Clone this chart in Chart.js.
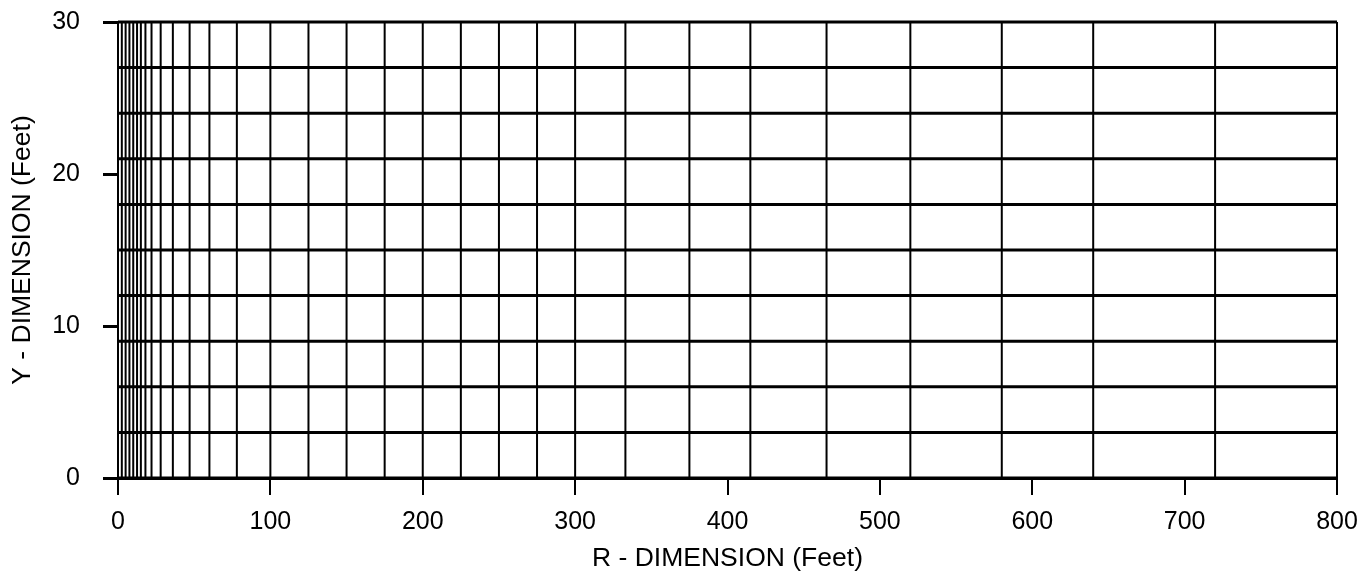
<!DOCTYPE html>
<html>
<head>
<meta charset="utf-8">
<script src="https://cdn.jsdelivr.net/npm/chart.js@4/dist/chart.umd.min.js"></script>
<style>
  html, body { margin: 0; padding: 0; background: #fff; }
  #wrap { width: 1365px; height: 576px; }
</style>
</head>
<body>
<div id="wrap"><canvas id="chart"></canvas></div>
<script>
// mesh column boundaries along R (feet)
const rLines = [0, 2.5, 5, 7.5, 10, 12.5, 15, 18, 22, 28, 36, 47, 60, 78, 100,
  125, 150, 175, 200, 225, 250, 275, 300, 333, 375, 415, 465, 520, 580, 640, 720, 800];
// mesh layer boundaries along Y (feet)
const yLines = [0, 3, 6, 9, 12, 15, 18, 21, 24, 27, 30];
// axis tick labels
const rTicks = [0, 100, 200, 300, 400, 500, 600, 700, 800];
const yTicks = [0, 10, 20, 30];

const FONT = "'Liberation Sans', Arial, Helvetica, sans-serif";

// each family of mesh lines is one dataset, segments split by null points
function verticalSegments() {
  var pts = [];
  rLines.forEach((r) => {
    pts.push({x: r, y: yLines[0]});
    pts.push({x: r, y: yLines[yLines.length - 1]});
    pts.push({x: r, y: null});
  });
  return pts;
}

function horizontalSegments() {
  var pts = [];
  yLines.forEach((y) => {
    pts.push({x: rLines[0], y: y});
    pts.push({x: rLines[rLines.length - 1], y: y});
    pts.push({x: rLines[0], y: null});
  });
  return pts;
}

new Chart(document.getElementById('chart'), {
  type: 'scatter',
  data: {
    datasets: [{
      data: verticalSegments(),
      showLine: true,
      borderColor: '#000',
      borderWidth: 2,
      pointRadius: 0,
      spanGaps: false,
      clip: false
    }, {
      data: horizontalSegments(),
      showLine: true,
      borderColor: '#000',
      borderWidth: 3,
      pointRadius: 0,
      spanGaps: false,
      clip: false
    }]
  },
  options: {
    responsive: true,
    maintainAspectRatio: false,
    animation: false,
    layout: { padding: { left: 0, right: 28, top: 22, bottom: 0 } },
    plugins: {
      legend: { display: false },
      tooltip: { enabled: false }
    },
    scales: {
      x: {
        type: 'linear',
        min: 0,
        max: 800,
        afterBuildTicks: (scale) => { scale.ticks = rTicks.map((v) => ({value: v})); },
        afterFit: (scale) => {
          scale.height = 98;
          // let layout.padding alone decide the plot edges
          scale.paddingLeft = 0;
          scale.paddingRight = 0;
        },
        grid: {
          drawOnChartArea: false,
          drawTicks: true,
          tickLength: 17,
          color: '#000',
          lineWidth: 2
        },
        border: { display: true, color: '#000', width: 3 },
        ticks: {
          color: '#000',
          padding: 12,
          maxRotation: 0,
          font: { family: FONT, size: 25 }
        },
        title: {
          display: true,
          text: 'R - DIMENSION (Feet)',
          color: '#000',
          font: { family: FONT, size: 26.5 },
          padding: { top: 0, bottom: 1 }
        }
      },
      y: {
        type: 'linear',
        min: 0,
        max: 30,
        afterBuildTicks: (scale) => { scale.ticks = yTicks.map((v) => ({value: v})); },
        afterFit: (scale) => {
          scale.width = 118;
          scale.paddingTop = 0;
          scale.paddingBottom = 0;
        },
        grid: {
          drawOnChartArea: false,
          drawTicks: true,
          tickLength: 15,
          color: '#000',
          lineWidth: 3
        },
        border: { display: true, color: '#000', width: 2 },
        ticks: {
          color: '#000',
          padding: 23,
          font: { family: FONT, size: 25 }
        },
        title: {
          display: true,
          text: 'Y - DIMENSION (Feet)',
          color: '#000',
          font: { family: FONT, size: 26.5 },
          padding: { top: 7, bottom: 0 }
        }
      }
    }
  }
});
</script>
</body>
</html>
